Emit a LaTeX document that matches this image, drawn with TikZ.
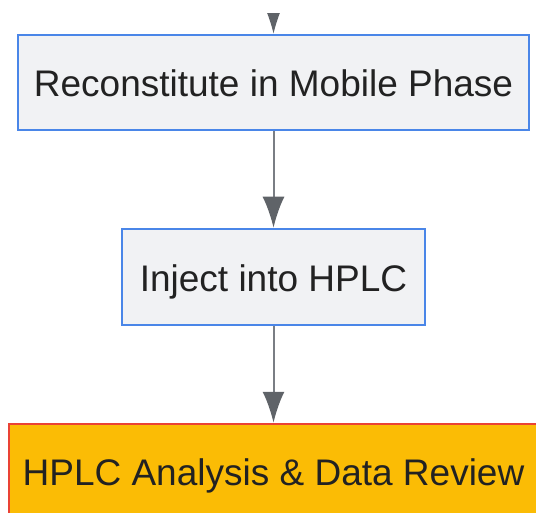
\documentclass[tikz,border=0pt]{standalone}
\usepackage{fontspec}
\setmainfont{Liberation Sans}
\usetikzlibrary{arrows.meta}

\definecolor{stepfill}{HTML}{F1F2F4}
\definecolor{stepline}{HTML}{4A86E8}
\definecolor{endfill}{HTML}{FBBC05}
\definecolor{endline}{HTML}{EA4335}
\definecolor{flowline}{HTML}{7A7E84}
\definecolor{flowtip}{HTML}{5F6368}
\definecolor{labeltext}{HTML}{222222}

\tikzset{
  stepbox/.style={draw=stepline, fill=stepfill, line width=2.5pt, text=labeltext,
    inner sep=0pt, text height=29pt, text depth=0pt,
    font=\fontsize{37}{44}\selectfont},
  endbox/.style={stepbox, draw=endline, fill=endfill},
  flow/.style={draw=flowline, line width=2pt,
    -{Latex[length=31pt, width=22pt, color=flowtip]}}
}

\begin{document}
\begin{tikzpicture}[x=1pt, y=-1pt]
		%%%%% START %%%%%
		\useasboundingbox (0, 0) rectangle (536, 513);
		\clip (0, 0) rectangle (536, 513);
		
		\coordinate (entry) at (273.5, -20);
		
		\node[stepbox, minimum width=511pt, minimum height=95pt] (reconstitute) at (273.5, 82.5) {Reconstitute in Mobile Phase};
		\node[stepbox, minimum width=303pt, minimum height=96pt] (inject) at (273.5, 277) {Inject into HPLC};
		\node[endbox, minimum width=529pt, minimum height=93pt] (analysis) at (273.5, 470.5) {HPLC Analysis \& Data Review};
		
		% only the head of the incoming arrow shows
		\begin{scope}
			\clip (0, 14) rectangle (536, 40);
			\draw[flow] (entry) -- (reconstitute);
		\end{scope}
		\draw[flow] (reconstitute) -- (inject);
		\draw[flow] (inject) -- (analysis);
		
		%%%%% END %%%%%
	\end{tikzpicture}
\end{document}
